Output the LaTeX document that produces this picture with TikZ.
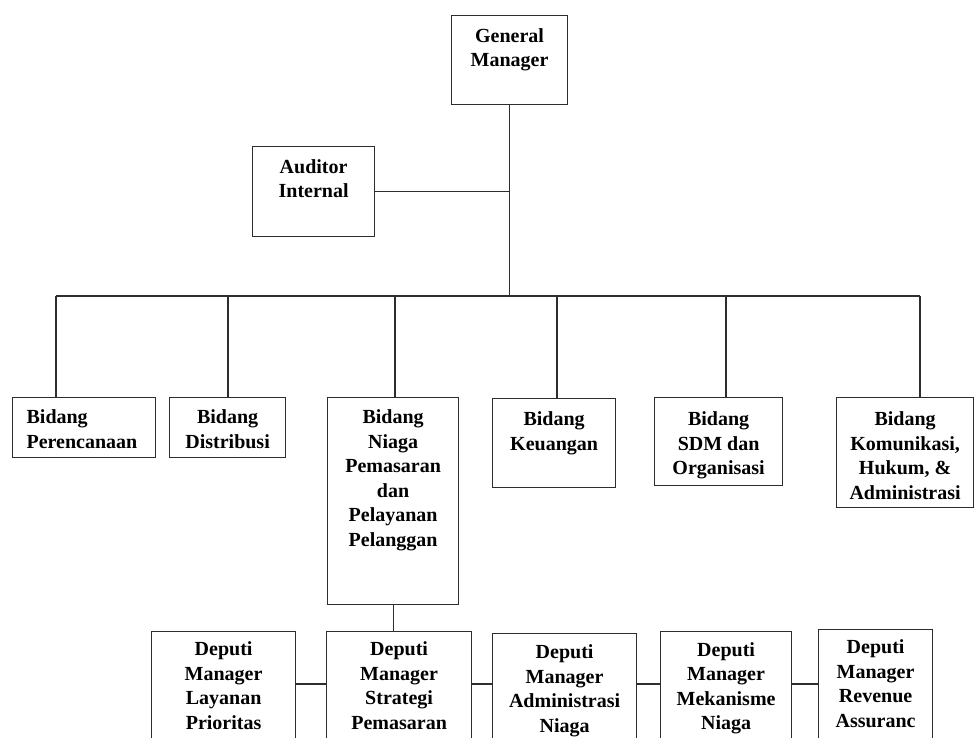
\documentclass[tikz,border=0pt]{standalone}
\usepackage{fontspec}
\setmainfont{Liberation Serif}
\usetikzlibrary{positioning}
\definecolor{linegray}{RGB}{45,45,45}
\newcommand{\unittext}[5][\centering]{\parbox[t][#3][t]{#2}{#1\vspace*{#4}\rule{0pt}{14pt}#5}}

\begin{document}
\begin{tikzpicture}[x=1pt, y=-1pt,
    unit/.style={draw=linegray, line width=1.2pt, inner sep=0pt, anchor=north west,
                 font=\fontsize{20pt}{24.5pt}\selectfont\bfseries},
    link/.style={draw=linegray, line width=1.2pt}]
    \path[fill=white, use as bounding box] (0,0) rectangle (976,738);
    \clip (0,0) rectangle (976,738);

    % General Manager and auditor
    \node[unit] (gm) at (451,15) {\unittext{116pt}{89pt}{12.7pt}{General\\Manager}};
    \node[unit] (aud) at (252,146) {\unittext{122pt}{90pt}{12.7pt}{Auditor\\Internal}};

    % Bidang row
    \node[unit] (per) at (12,397) {\unittext[\raggedright\leftskip=14pt]{143pt}{60pt}{12.3pt}{Bidang\\Perencanaan}};
    \node[unit] (dis) at (169,397) {\unittext{116pt}{60pt}{12.3pt}{Bidang\\Distribusi}};
    \node[unit] (nia) at (327,397) {\unittext{131pt}{207pt}{12pt}{Bidang\\Niaga\\Pemasaran\\dan\\Pelayanan\\Pelanggan}};
    \node[unit] (keu) at (492,398) {\unittext{123pt}{89pt}{13pt}{Bidang\\Keuangan}};
    \node[unit] (sdm) at (654,397) {\unittext{128pt}{88pt}{14pt}{Bidang\\SDM dan\\Organisasi}};
    \node[unit] (kom) at (836,397) {\unittext{137pt}{110pt}{14pt}{Bidang\\Komunikasi,\\Hukum, \&\\Administrasi}};

    % Deputi row
    \node[unit] (lay) at (151,631) {\unittext{144pt}{140pt}{10pt}{Deputi\\Manager\\Layanan\\Prioritas}};
    \node[unit] (str) at (326,631) {\unittext{145pt}{140pt}{10pt}{Deputi\\Manager\\Strategi\\Pemasaran}};
    \node[unit] (adm) at (492,633) {\unittext{144pt}{140pt}{11pt}{Deputi\\Manager\\Administrasi\\Niaga}};
    \node[unit] (mek) at (660,631) {\unittext{131pt}{140pt}{10.7pt}{Deputi\\Manager\\Mekanisme\\Niaga}};
    \node[unit] (rev) at (818,629) {\unittext{114pt}{140pt}{10pt}{Deputi\\Manager\\Revenue\\Assuranc}};

    % Lines
    \coordinate (d1) at (56,296);
    \coordinate (d2) at (228,296);
    \coordinate (d3) at (395,296);
    \coordinate (d4) at (557,296);
    \coordinate (d5) at (726,296);
    \coordinate (d6) at (920,296);
    \coordinate (row) at (0,684);
    \draw[link] (gm.south) -- (gm.south |- d1);
    \draw[link] (aud.east) -- (aud.east -| gm.south);
    \draw[link] (d1) -- (d6);
    \foreach \d/\u in {d1/per, d2/dis, d3/nia, d4/keu, d5/sdm, d6/kom}
        \draw[link] (\d) -- (\d |- \u.north);
    \draw[link] (nia.south) -- (nia.south |- str.north);
    \foreach \a/\b in {lay/str, str/adm, adm/mek, mek/rev}
        \draw[link] (\a.east |- row) -- (\b.west |- row);
\end{tikzpicture}
\end{document}
